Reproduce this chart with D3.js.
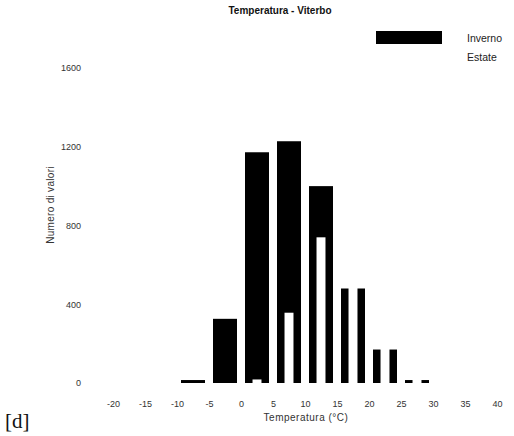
<!DOCTYPE html>
<html>
<head>
<meta charset="utf-8">
<script src="https://cdn.jsdelivr.net/npm/d3@7"></script>
<style>
  html, body { margin: 0; padding: 0; background: #fff; }
  svg { display: block; font-family: "Liberation Sans", Arial, sans-serif; }
</style>
</head>
<body>
<svg id="chart" width="514" height="436"></svg>
<script>
// ---- data ----
const binStarts = [-10, -5, 0, 5, 10, 15, 20, 25, 30];
const binWidth = 5;
const inverno = [15, 326, 1172, 1228, 1000, 480, 170, 15, 0];
const estate  = [0, 0, 18, 357, 740, 1150, 1200, 700, 200];
const seriesNames = ["Inverno", "Estate"];
const xTicks = [-20, -15, -10, -5, 0, 5, 10, 15, 20, 25, 30, 35, 40];
const yTicks = [0, 400, 800, 1200, 1600];
const titleText = "Temperatura - Viterbo";
const xTitle = "Temperatura (°C)";
const yTitle = "Numero di valori";
const panelLabel = "[d]";

// ---- scales ----
const svg = d3.select("#chart");
const x = d3.scaleLinear().domain([-20, 40]).range([113, 497]);
const y = d3.scaleLinear().domain([0, 1600]).range([383, 68]);

const bins = binStarts.map((s, i) => ({ lo: s, hi: s + binWidth, inv: inverno[i], est: estate[i] }));

// Inverno bars (black, wide)
svg.append("g").selectAll("rect").data(bins.filter(d => d.inv > 0)).join("rect")
  .attr("x", d => { const bw = x(d.hi) - x(d.lo); return x(d.lo) + bw * 0.125; })
  .attr("width", d => (x(d.hi) - x(d.lo)) * 0.75)
  .attr("y", d => y(d.inv))
  .attr("height", d => y(0) - y(d.inv))
  .attr("fill", "#000");

// Estate bars (white, narrow, in front)
svg.append("g").selectAll("rect").data(bins.filter(d => d.est > 0)).join("rect")
  .attr("x", d => { const bw = x(d.hi) - x(d.lo); return x((d.lo + d.hi) / 2) - bw * 0.14; })
  .attr("width", d => (x(d.hi) - x(d.lo)) * 0.28)
  .attr("y", d => y(d.est))
  .attr("height", d => y(0) - y(d.est))
  .attr("fill", "#fff");

// ---- axes (labels only) ----
const yAxis = svg.append("g").attr("transform", "translate(83,0)")
  .call(d3.axisLeft(y).tickValues(yTicks).tickSize(0).tickPadding(2).tickFormat(d => String(d)));
yAxis.select(".domain").remove();
yAxis.selectAll("text").attr("font-size", 9).attr("fill", "#333")
  .attr("font-family", "Liberation Sans, Arial, sans-serif");

const xAxis = svg.append("g").attr("transform", "translate(0,399)")
  .call(d3.axisBottom(x).tickValues(xTicks).tickSize(0).tickPadding(2).tickFormat(d => String(d)));
xAxis.select(".domain").remove();
xAxis.selectAll("text").attr("font-size", 9).attr("fill", "#333")
  .attr("font-family", "Liberation Sans, Arial, sans-serif");

// ---- titles ----
svg.append("text").attr("x", 280).attr("y", 14).attr("text-anchor", "middle")
  .attr("font-size", 10).attr("font-weight", "bold").attr("fill", "#111").text(titleText);

svg.append("text").attr("x", 306).attr("y", 421).attr("text-anchor", "middle")
  .attr("font-size", 10).attr("letter-spacing", 0.5).attr("fill", "#333").text(xTitle);

svg.append("text").attr("transform", "translate(54,205) rotate(-90)").attr("text-anchor", "middle")
  .attr("font-size", 10).attr("letter-spacing", 0.3).attr("fill", "#333").text(yTitle);

// ---- legend ----
const legend = svg.append("g");
const legendFill = ["#000", "#fff"];
seriesNames.forEach((name, i) => {
  legend.append("rect").attr("x", 376).attr("y", 31 + i * 19).attr("width", 66).attr("height", 13)
    .attr("fill", legendFill[i]);
  legend.append("text").attr("x", 467).attr("y", 42 + i * 19)
    .attr("font-size", 10.5).attr("fill", "#222").text(name);
});

// ---- panel label ----
svg.append("text").attr("x", 5).attr("y", 428)
  .attr("font-family", "Liberation Serif, Times New Roman, serif")
  .attr("font-size", 21).attr("fill", "#111").text(panelLabel);
</script>
</body>
</html>
